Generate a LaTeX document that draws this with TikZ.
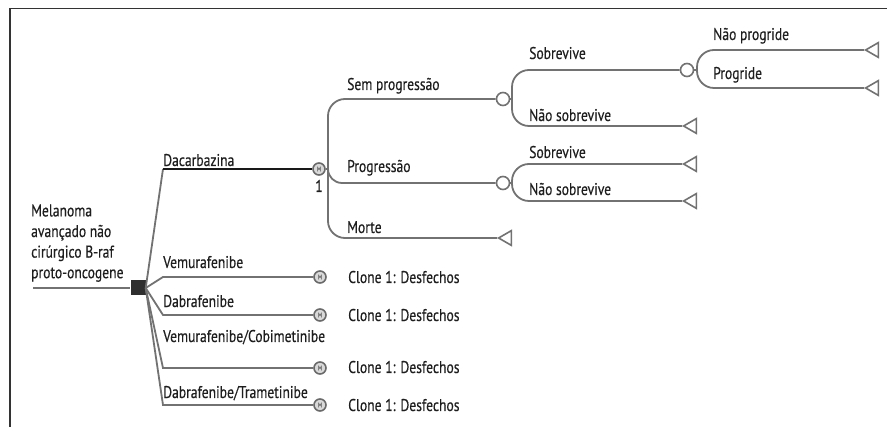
\documentclass[tikz,border=0pt]{standalone}
\usepackage{fontspec}
\setmainfont{PT Sans}[FakeStretch=0.8, FakeBold=0.4]
\usepackage{tikz}
\usetikzlibrary{positioning, shapes.geometric}
\definecolor{linegray}{HTML}{727272}
\definecolor{mgray}{HTML}{6a6a6a}
\definecolor{txt}{HTML}{1e1e1e}

\begin{document}
\begin{tikzpicture}[x=1pt,y=-1pt,
    branch/.style={draw=linegray, line width=1.8pt},
    lbl/.style={anchor=base west, inner sep=0pt, text=txt, font=\fontsize{17}{20.6}\selectfont},
    markov/.style={circle, draw=mgray, line width=1.6pt, fill=gray!30, minimum size=12pt, inner sep=0pt, text=mgray, font=\fontsize{6.5}{6.5}\selectfont},
    chance/.style={circle, draw=linegray, line width=1.6pt, fill=white, minimum size=13pt, inner sep=0pt},
    term/.style={regular polygon, regular polygon sides=3, shape border rotate=90, draw=linegray, line width=1.6pt, fill=white, minimum size=17pt, inner sep=0pt, anchor=west},
    decision/.style={rectangle, fill=black!82, minimum size=15pt, inner sep=0pt}]
    \useasboundingbox (0,0) rectangle (887,427);
    \draw[line width=1.2pt, black!80] (10,427) |- (887,8.5);

    \node[decision] (dec) at (138,288) {};
    \coordinate (start) at (33,288);
    \node[lbl, anchor=south west, align=left] (melanoma) at (31,282) {Melanoma\\avançado não\\cirúrgico B-raf\\proto-oncogene};
    \draw[branch] (start) -- (dec);

    \node[markov] (mdac) at (319,169) {M};
    \node[markov] (mvem) at (320,277) {M};
    \node[markov] (mdab) at (320,315) {M};
    \node[markov] (mvc) at (320,368) {M};
    \node[markov] (mdt) at (320,405) {M};
    \draw[branch] (dec.east) -- (163,169);
    \draw[line width=2.8pt, black!90] (163,169) -- (mdac);
    \draw[branch] (dec.east) -- (163,277) -- (mvem);
    \draw[branch] (dec.east) -- (163,315) -- (mdab);
    \draw[branch] (dec.east) -- (163,368) -- (mvc);
    \draw[branch] (dec.east) -- (163,405) -- (mdt);
    \node[lbl] (dac) at (163,166) {Dacarbazina};
    \node[lbl] (vem) at (163,268) {Vemurafenibe};
    \node[lbl] (dab) at (163,307) {Dabrafenibe};
    \node[lbl] (vc) at (163,342) {Vemurafenibe/Cobimetinibe};
    \node[lbl] (dt) at (163,398) {Dabrafenibe/Trametinibe};
    \node[lbl, anchor=base] (one) at (319,192) {1};
    \node[lbl] (clvem) at (348,283) {Clone 1: Desfechos};
    \node[lbl] (cldab) at (348,321) {Clone 1: Desfechos};
    \node[lbl] (clvc) at (348,373) {Clone 1: Desfechos};
    \node[lbl] (cldt) at (348,411) {Clone 1: Desfechos};

    \coordinate (sdac) at (328,169);
    \node[chance] (csem) at (503,99) {};
    \node[chance] (cprog) at (503,183) {};
    \node[term] (tmorte) at (497,238) {};
    \draw[branch] (mdac) -- (sdac);
    \draw[branch, rounded corners=17pt] (sdac) |- (csem);
    \draw[branch, rounded corners=14pt] (sdac) |- (cprog);
    \draw[branch, rounded corners=17pt] (sdac) |- (tmorte.west);
    \node[lbl] (sem) at (347,90) {Sem progressão};
    \node[lbl] (prog) at (347,172) {Progressão};
    \node[lbl] (morte) at (347,233) {Morte};

    \coordinate (ssem) at (512,99);
    \node[chance] (csob) at (687,70) {};
    \node[term] (tnsob) at (682,126) {};
    \draw[branch] (csem) -- (ssem);
    \draw[branch, rounded corners=17pt] (ssem) |- (csob);
    \draw[branch, rounded corners=17pt] (ssem) |- (tnsob.west);
    \node[lbl] (sob) at (529,59) {Sobrevive};
    \node[lbl] (nsob) at (529,121) {Não sobrevive};

    \coordinate (ssob) at (697,70);
    \node[term] (tnprog) at (864,50) {};
    \node[term] (tprog) at (864,88) {};
    \draw[branch] (csob) -- (ssob);
    \draw[branch, rounded corners=17pt] (ssob) |- (tnprog.west);
    \draw[branch, rounded corners=17pt] (ssob) |- (tprog.west);
    \node[lbl] (nprog) at (713,40) {Não progride};
    \node[lbl] (progr) at (713,79) {Progride};

    \coordinate (sprog) at (512,183);
    \node[term] (tsob) at (682,164) {};
    \node[term] (tnsobp) at (682,201) {};
    \draw[branch] (cprog) -- (sprog);
    \draw[branch, rounded corners=17pt] (sprog) |- (tsob.west);
    \draw[branch, rounded corners=17pt] (sprog) |- (tnsobp.west);
    \node[lbl] (sobp) at (529,158) {Sobrevive};
    \node[lbl] (nsobp) at (529,195) {Não sobrevive};
\end{tikzpicture}
\end{document}
